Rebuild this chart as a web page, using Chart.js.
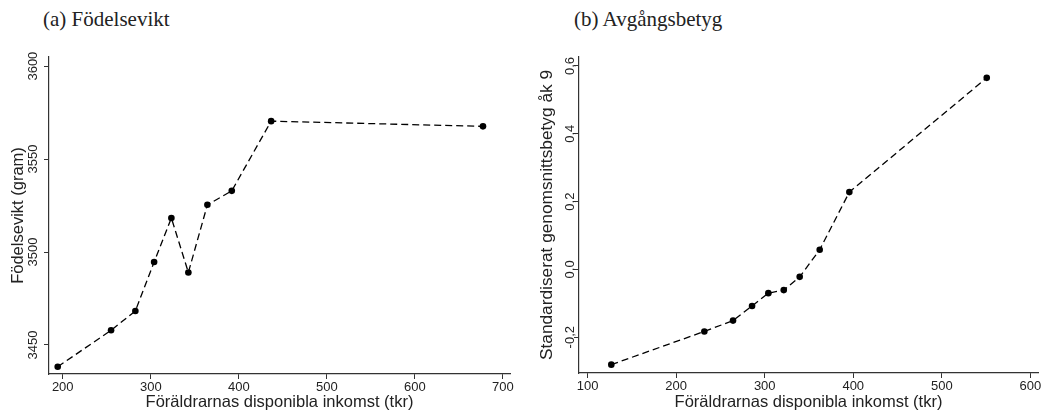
<!DOCTYPE html>
<html>
<head>
<meta charset="utf-8">
<script src="https://cdn.jsdelivr.net/npm/chart.js@4"></script>
<style>
body{margin:0;background:#fff;width:1043px;height:412px;position:relative;overflow:hidden}
canvas{position:absolute;top:0}
.ttl{position:absolute;font-family:"Liberation Serif","Times New Roman",serif;font-size:21px;color:#222;top:7px;white-space:nowrap}
</style>
</head>
<body>
<div class="ttl" style="left:43px">(a) Födelsevikt</div>
<div class="ttl" style="left:574px">(b) Avgångsbetyg</div>
<canvas id="a" width="520" height="412" style="left:0"></canvas>
<canvas id="b" width="523" height="412" style="left:520px"></canvas>
<script>
// (a) födelsevikt mot inkomst
var inkomstA = [194.3, 254.9, 282.5, 303.8, 323.4, 342.7, 364.3, 392.0, 436.7, 677.3];
var viktA = [3438.3, 3457.9, 3468.3, 3494.6, 3518.3, 3489.0, 3525.4, 3532.9, 3570.4, 3567.6];
var xTicksA = [200, 300, 400, 500, 600, 700];
var yTicksA = [3450, 3500, 3550, 3600];
var yLabelsA = ['3450', '3500', '3550', '3600'];

// (b) avgångsbetyg mot inkomst
var inkomstB = [126.7, 231.8, 264.2, 285.7, 304.1, 321.5, 339.5, 362.1, 395.6, 550.8];
var betygB = [-0.281, -0.183, -0.151, -0.108, -0.070, -0.061, -0.022, 0.058, 0.228, 0.565];
var xTicksB = [100, 200, 300, 400, 500, 600];
var yTicksB = [-0.2, 0, 0.2, 0.4, 0.6];
var yLabelsB = ['-0,2', '0,0', '0,2', '0,4', '0,6'];

var sans = '"Liberation Sans", Arial, sans-serif';

function makeChart(id, xs, ys, xTicks, yTicks, yLabels, p) {
    var pts = xs.map(function (x, i) { return { x: x, y: ys[i] }; });

    // y-axelns etiketter står lodrätt
    var rotLabels = {
        id: 'rotLabels',
        afterDraw: function (chart) {
            var ctx = chart.ctx, sc = chart.scales.y;
            ctx.save();
            ctx.font = '13px ' + sans;
            ctx.fillStyle = '#222';
            ctx.textAlign = 'center';
            ctx.textBaseline = 'middle';
            yTicks.forEach(function (v, i) {
                ctx.save();
                ctx.translate(p.labelX, sc.getPixelForValue(v));
                ctx.rotate(-Math.PI / 2);
                ctx.fillText(yLabels[i], 0, 0);
                ctx.restore();
            });
            ctx.restore();
        }
    };

    return new Chart(document.getElementById(id), {
        type: 'line',
        data: {
            datasets: [{
                data: pts,
                borderColor: '#000',
                borderWidth: 1.3,
                borderDash: [7, 4],
                tension: 0,
                pointRadius: 3.3,
                pointBackgroundColor: '#000',
                pointBorderWidth: 0
            }]
        },
        options: {
            responsive: false,
            animation: false,
            devicePixelRatio: 1,
            layout: { padding: { top: 57, right: p.right, left: 0, bottom: 0 } },
            plugins: { legend: { display: false }, tooltip: { enabled: false } },
            scales: {
                x: {
                    type: 'linear',
                    min: p.xmin, max: p.xmax,
                    afterBuildTicks: function (s) { s.ticks = xTicks.map(function (v) { return { value: v }; }); },
                    afterFit: function (s) { s.height = p.xh; },
                    ticks: { autoSkip: false, maxRotation: 0, padding: 1, color: '#222', font: { family: sans, size: 13 } },
                    grid: { drawOnChartArea: false, tickLength: 5, color: '#333' },
                    border: { color: '#333', width: 1.2 },
                    title: { display: true, text: 'Föräldrarnas disponibla inkomst (tkr)', color: '#222',
                        font: { family: sans, size: 16.5, lineHeight: 1.1 }, padding: { top: 0, bottom: 0 } }
                },
                y: {
                    type: 'linear',
                    min: p.ymin, max: p.ymax,
                    afterBuildTicks: function (s) { s.ticks = yTicks.map(function (v) { return { value: v }; }); },
                    afterFit: function (s) { s.width = p.yw; },
                    ticks: { display: false },
                    grid: { drawOnChartArea: false, tickLength: 5, color: '#333' },
                    border: { color: '#333', width: 1.2 },
                    title: { display: true, text: p.ytitle, color: '#222',
                        font: { family: sans, size: p.tsize, lineHeight: 1.2 }, padding: { top: p.tpad, bottom: 0 } }
                }
            }
        },
        plugins: [rotLabels]
    });
}

makeChart('a', inkomstA, viktA, xTicksA, yTicksA, yLabelsA, {
    xmin: 184.4, xmax: 708, ymin: 3434.4, ymax: 3604.9,
    right: 10, xh: 38, yw: 49, labelX: 33.5, tpad: 8.4, tsize: 16.5, ytitle: 'Födelsevikt (gram)'
});
makeChart('b', inkomstB, betygB, xTicksB, yTicksB, yLabelsB, {
    xmin: 90.2, xmax: 608.7, ymin: -0.3056, ymax: 0.6265,
    right: 5, xh: 39, yw: 59, labelX: 50.5, tpad: 16.5, tsize: 17.3, ytitle: 'Standardiserat genomsnittsbetyg åk 9'
});
</script>
</body>
</html>
